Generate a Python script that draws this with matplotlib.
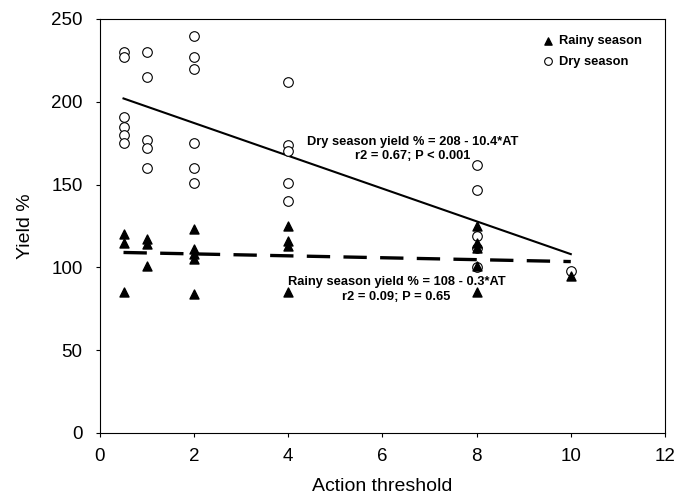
import numpy as np
import matplotlib.pyplot as plt

plt.rcParams['font.family'] = ['Liberation Sans', 'DejaVu Sans']

# rainy season observations (action threshold, yield %)
rainy_x = [0.5, 0.5, 0.5, 1, 1, 1, 2, 2, 2, 2, 2, 4, 4, 4, 4, 8, 8, 8, 8, 8, 10]
rainy_y = [120, 115, 85, 117, 114, 101, 123, 111, 108, 105, 84, 125, 116, 113, 85, 125, 115, 112, 101, 85, 95]

# dry season observations
dry_x = [0.5, 0.5, 0.5, 0.5, 0.5, 0.5, 1, 1, 1, 1, 1, 2, 2, 2, 2, 2, 2, 4, 4, 4, 4, 4, 8, 8, 8, 8, 8, 10]
dry_y = [230, 227, 191, 185, 180, 175, 230, 215, 177, 172, 160, 240, 227, 220, 175, 160, 151,
         212, 174, 170, 151, 140, 162, 147, 119, 112, 100, 98]

# fitted lines as drawn (end points)
dry_fit_x = [0.5, 10]
dry_fit_y = [202, 108]
rainy_fit_x = [0.5, 10]
rainy_fit_y = [109, 103.5]

fig = plt.figure(figsize=(6.88, 4.99), dpi=100)
ax = fig.add_axes([0.1453, 0.1323, 0.8212, 0.8297])

ax.plot(dry_fit_x, dry_fit_y, color='black', lw=1.5, zorder=2)
ax.plot(rainy_fit_x, rainy_fit_y, color='black', lw=2.4, dashes=(7, 4), zorder=2)

ax.scatter(dry_x, dry_y, marker='o', s=48, facecolors='white', edgecolors='black',
           linewidths=0.8, label='Dry season', zorder=3)
ax.scatter(rainy_x, rainy_y, marker='^', s=42, color='black', label='Rainy season', zorder=4)

ax.text(6.65, 171.5, 'Dry season yield % = 208 - 10.4*AT\nr2 = 0.67; P < 0.001',
        ha='center', va='center', fontsize=9.3, fontweight='bold', linespacing=1.3)
ax.text(6.3, 86.7, 'Rainy season yield % = 108 - 0.3*AT\nr2 = 0.09; P = 0.65',
        ha='center', va='center', fontsize=9.3, fontweight='bold', linespacing=1.3)

handles, labels = ax.get_legend_handles_labels()
leg = ax.legend(handles[::-1], labels[::-1], loc='upper left', bbox_to_anchor=(0.781, 0.961),
                frameon=False, fontsize=9.3, handlelength=1.0, handletextpad=0.4,
                borderpad=0, borderaxespad=0, labelspacing=0.65, markerscale=0.8)
for t in leg.get_texts():
    t.set_fontweight('bold')

ax.set_xlim(0, 12)
ax.set_ylim(0, 250)
ax.set_xticks(range(0, 13, 2))
ax.set_yticks(range(0, 251, 50))
ax.tick_params(direction='out', labelsize=13.5, length=3, top=False, right=False)
ax.tick_params(axis='x', pad=7.5)
ax.tick_params(axis='y', pad=9.5)
ax.set_xlabel('Action threshold', fontsize=14, va='center')
ax.set_ylabel('Yield %', fontsize=14, va='center')
ax.xaxis.set_label_coords(0.5, -0.130)
ax.yaxis.set_label_coords(-0.131, 0.5)

fig.savefig('out.png', dpi=100)
